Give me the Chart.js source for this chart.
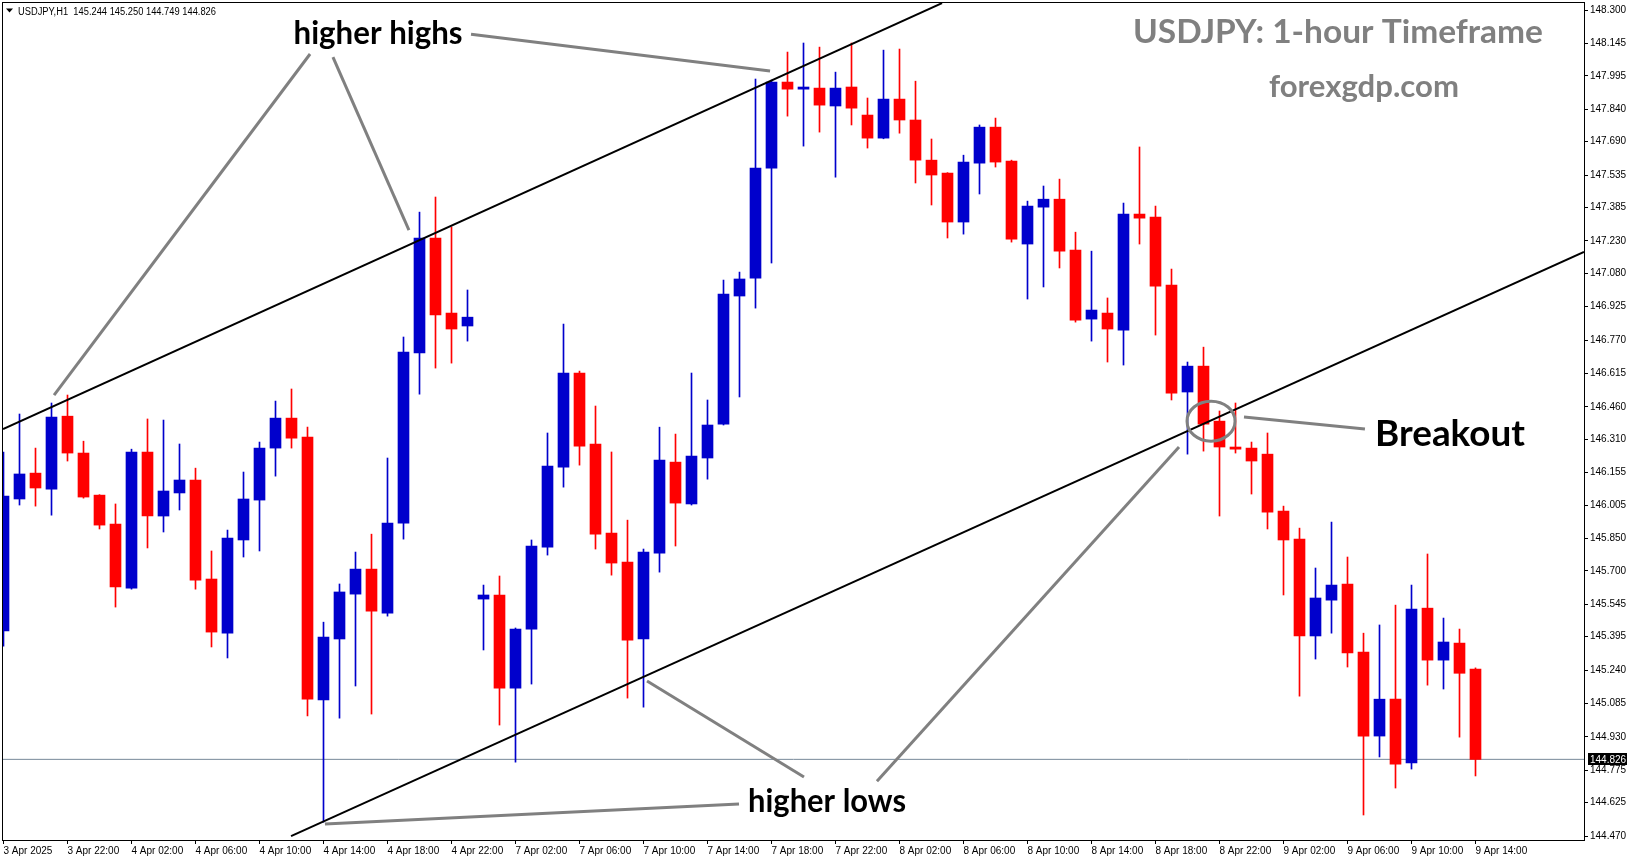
<!DOCTYPE html>
<html>
<head>
<meta charset="utf-8">
<script src="https://cdn.jsdelivr.net/npm/chart.js@4.4.1/dist/chart.umd.min.js"></script>
<style>
  html, body { margin: 0; padding: 0; background: #fff; }
  #wrap { width: 1631px; height: 861px; }
</style>
</head>
<body>
<div id="wrap"><canvas id="chart" width="1631" height="861"></canvas></div>
<script>
// USDJPY H1, 3 Apr 18:00 -> 9 Apr 14:00 (bar index 0..92)
const opens = [
  145.421, 146.033, 146.153, 146.079, 146.417, 146.246, 146.051, 145.917, 145.620, 146.251,
  145.954, 146.061, 146.121, 145.662, 145.411, 145.843, 146.028, 146.269, 146.408, 146.320,
  145.101, 145.384, 145.592, 145.708, 145.504, 145.921, 146.710, 147.243, 146.895, 146.835,
  145.569, 145.588, 145.156, 145.430, 145.810, 146.181, 146.617, 146.288, 145.875, 145.741,
  145.384, 145.782, 146.204, 146.010, 146.223, 146.380, 146.974, 147.057, 147.567, 147.966,
  147.933, 147.938, 147.855, 147.943, 147.813, 147.706, 147.887, 147.790, 147.604, 147.544,
  147.317, 147.590, 147.757, 147.600, 147.215, 147.386, 147.423, 147.187, 146.867, 146.895,
  146.816, 147.354, 147.340, 147.025, 146.529, 146.649, 146.394, 146.274, 146.269, 146.241,
  145.977, 145.847, 145.398, 145.564, 145.639, 145.323, 144.934, 145.105, 144.809, 145.527,
  145.286, 145.365, 145.244
];
const highs = [
  146.251, 146.427, 146.269, 146.478, 146.515, 146.301, 146.053, 146.010, 146.264, 146.404,
  146.399, 146.288, 146.176, 145.792, 145.889, 146.158, 146.297, 146.487, 146.543, 146.366,
  145.462, 145.639, 145.787, 145.870, 146.223, 146.784, 147.363, 147.433, 147.294, 147.002,
  145.634, 145.676, 145.435, 145.843, 146.339, 146.844, 146.626, 146.464, 146.251, 145.935,
  145.801, 146.366, 146.334, 146.617, 146.492, 147.048, 147.085, 147.980, 147.975, 148.105,
  148.147, 148.128, 148.012, 148.147, 147.892, 148.114, 148.119, 147.970, 147.702, 147.546,
  147.627, 147.767, 147.799, 147.604, 147.414, 147.484, 147.516, 147.270, 147.182, 146.965,
  147.405, 147.665, 147.391, 147.099, 146.668, 146.737, 146.441, 146.478, 146.297, 146.339,
  146.000, 145.898, 145.713, 145.926, 145.764, 145.411, 145.449, 145.541, 145.634, 145.778,
  145.481, 145.430, 145.250
];
const lows = [
  145.351, 146.005, 146.000, 145.958, 146.209, 146.037, 145.894, 145.532, 145.615, 145.806,
  145.880, 145.982, 145.615, 145.347, 145.296, 145.764, 145.792, 146.139, 146.269, 145.027,
  144.535, 145.017, 145.166, 145.036, 145.490, 145.847, 146.519, 146.640, 146.663, 146.765,
  145.333, 144.985, 144.813, 145.175, 145.773, 146.088, 146.190, 145.801, 145.680, 145.110,
  145.068, 145.694, 145.815, 146.005, 146.125, 146.376, 146.506, 146.918, 147.127, 147.808,
  147.669, 147.734, 147.525, 147.767, 147.660, 147.703, 147.729, 147.498, 147.396, 147.243,
  147.261, 147.447, 147.572, 147.224, 146.960, 147.016, 147.104, 146.853, 146.765, 146.668,
  146.654, 147.215, 146.793, 146.492, 146.241, 146.255, 145.954, 146.246, 146.056, 145.894,
  145.588, 145.119, 145.291, 145.411, 145.254, 144.568, 144.837, 144.693, 144.781, 145.170,
  145.152, 144.929, 144.749
];
const closes = [
  146.047, 146.149, 146.084, 146.413, 146.246, 146.042, 145.912, 145.625, 146.251, 145.954,
  146.070, 146.121, 145.657, 145.416, 145.852, 146.033, 146.269, 146.408, 146.315, 145.105,
  145.393, 145.602, 145.708, 145.513, 145.921, 146.714, 147.243, 146.886, 146.821, 146.876,
  145.588, 145.156, 145.430, 145.815, 146.186, 146.617, 146.278, 145.870, 145.736, 145.379,
  145.787, 146.213, 146.014, 146.232, 146.376, 146.983, 147.053, 147.567, 147.966, 147.933,
  147.943, 147.859, 147.938, 147.845, 147.706, 147.887, 147.790, 147.604, 147.535, 147.317,
  147.595, 147.757, 147.595, 147.238, 147.391, 147.423, 147.182, 146.862, 146.909, 146.821,
  147.354, 147.335, 147.020, 146.524, 146.649, 146.380, 146.274, 146.264, 146.209, 145.972,
  145.843, 145.398, 145.574, 145.634, 145.319, 144.934, 145.105, 144.804, 145.523, 145.286,
  145.370, 145.225, 144.826
];

const tickIdx = [0, 4, 8, 12, 16, 20, 24, 28, 32, 36, 40, 44, 48, 52, 56, 60, 64, 68, 72, 76, 80, 84, 88, 92];
const tickText = ['3 Apr 2025', '3 Apr 22:00', '4 Apr 02:00', '4 Apr 06:00', '4 Apr 10:00', '4 Apr 14:00',
  '4 Apr 18:00', '4 Apr 22:00', '7 Apr 02:00', '7 Apr 06:00', '7 Apr 10:00', '7 Apr 14:00', '7 Apr 18:00',
  '7 Apr 22:00', '8 Apr 02:00', '8 Apr 06:00', '8 Apr 10:00', '8 Apr 14:00', '8 Apr 18:00', '8 Apr 22:00',
  '9 Apr 02:00', '9 Apr 06:00', '9 Apr 10:00', '9 Apr 14:00'];
const yTicks = [148.300, 148.145, 147.995, 147.840, 147.690, 147.535, 147.385, 147.230, 147.080, 146.925,
  146.770, 146.615, 146.460, 146.310, 146.155, 146.005, 145.850, 145.700, 145.545, 145.395,
  145.240, 145.085, 144.930, 144.775, 144.625, 144.470];

// trend channel (bar index, price)
const upperLine = [[-0.03, 146.357], [58.66, 148.332]];
const lowerLine = [[17.97, 144.470], [98.78, 147.178]];
// grey pointer lines
const pointers = [
  [[19.16, 148.096], [3.16, 146.515]],
  [[20.59, 148.082], [25.34, 147.280]],
  [[29.22, 148.188], [47.91, 148.017]],
  [[20.09, 144.526], [45.97, 144.619]],
  [[40.22, 145.189], [50.03, 144.744]],
  [[54.59, 144.725], [73.47, 146.274]],
  [[77.53, 146.413], [85.09, 146.357]]
];
const breakoutAt = [75.47, 146.394];

const BLUE = '#0000CC', RED = '#FF0000', GREY = '#808080';
const idx = opens.map((_, i) => i);
const colorOf = i => closes[i] >= opens[i] ? BLUE : RED;
const last = closes[closes.length - 1];
const X_MIN = -0.03125, X_MAX = 98.78125;

Chart.defaults.font.family = '"Liberation Sans", Arial, sans-serif';
Chart.defaults.font.size = 10;
Chart.defaults.color = '#000';

const toXY = pts => pts.map(p => ({x: p[0], y: p[1]}));
const lineSet = (pts, color, w) => ({
  type: 'line', data: toXY(pts), borderColor: color, borderWidth: w,
  pointRadius: 0, fill: false, tension: 0, order: 0
});

function fitText(ctx, text, cx, base, font, width, color) {
  ctx.save();
  ctx.font = font;
  const w = ctx.measureText(text).width;
  ctx.translate(cx, base);
  ctx.scale(width / w, 1);
  ctx.fillStyle = color;
  ctx.textAlign = 'center';
  ctx.textBaseline = 'alphabetic';
  ctx.fillText(text, 0, 0);
  ctx.restore();
}

const overlay = {
  id: 'overlay',
  afterDraw(chart) {
    const {ctx, chartArea: ca, scales: {x, y}} = chart;
    // frame
    ctx.save();
    ctx.strokeStyle = '#000';
    ctx.lineWidth = 1;
    ctx.strokeRect(ca.left - 0.5, ca.top - 0.5, ca.right - ca.left + 1, ca.bottom - ca.top + 1);

    // breakout circle
    ctx.strokeStyle = GREY;
    ctx.lineWidth = 3;
    ctx.beginPath();
    ctx.ellipse(x.getPixelForValue(breakoutAt[0]), y.getPixelForValue(breakoutAt[1]), 24, 20, 0, 0, Math.PI * 2);
    ctx.stroke();

    // header
    ctx.fillStyle = '#000';
    ctx.beginPath();
    ctx.moveTo(6, 8.5); ctx.lineTo(13, 8.5); ctx.lineTo(9.5, 12.5); ctx.closePath();
    ctx.fill();
    ctx.font = '10px "Liberation Sans"';
    ctx.textBaseline = 'alphabetic';
    ctx.textAlign = 'left';
    const head = 'USDJPY,H1  ' + [opens[92], highs[92], lows[92], closes[92]].map(v => v.toFixed(3)).join(' ');
    const hw = ctx.measureText(head).width;
    ctx.save(); ctx.translate(18, 14.5); ctx.scale(198 / hw, 1); ctx.fillText(head, 0, 0); ctx.restore();

    // last price tag
    const py = y.getPixelForValue(last);
    ctx.fillStyle = '#000';
    ctx.fillRect(ca.right + 4, Math.round(py) - 6, 39, 12);
    ctx.fillStyle = '#fff';
    ctx.textBaseline = 'middle';
    ctx.fillText(last.toFixed(3), ca.right + 6, py + 0.5);
    ctx.restore();

    // labels
    fitText(ctx, 'higher highs', x.getPixelForValue(23.41), y.getPixelForValue(148.142), 'bold 32px Lato', 169, '#000');
    fitText(ctx, 'higher lows', x.getPixelForValue(51.47), y.getPixelForValue(144.582), 'bold 32px Lato', 158, '#000');
    fitText(ctx, 'Breakout', x.getPixelForValue(90.41), y.getPixelForValue(146.278), 'bold 37px Lato', 150, '#000');
    fitText(ctx, 'USDJPY: 1-hour Timeframe', 1338, 43, 'bold 33px Lato', 410, GREY);
    fitText(ctx, 'forexgdp.com', 1364, 97, 'bold 30px Lato', 190, GREY);
  }
};

new Chart(document.getElementById('chart'), {
  type: 'bar',
  data: {
    datasets: [
      lineSet(upperLine, '#000', 2),
      lineSet(lowerLine, '#000', 2),
      ...pointers.map(p => lineSet(p, GREY, 3)),
      {
        type: 'line', data: [{x: X_MIN, y: last}, {x: X_MAX, y: last}],
        borderColor: '#778899', borderWidth: 1, pointRadius: 0, order: 5
      },
      {
        type: 'bar', data: idx.map(i => ({x: i, y: [lows[i], highs[i]]})),
        backgroundColor: c => colorOf(c.dataIndex), barThickness: 1, grouped: false, order: 3
      },
      {
        type: 'bar', data: idx.map(i => ({x: i, y: [Math.min(opens[i], closes[i]), Math.max(opens[i], closes[i])]})),
        backgroundColor: c => colorOf(c.dataIndex), barThickness: 11, grouped: false, minBarLength: 1, order: 2
      }
    ]
  },
  options: {
    responsive: false,
    animation: false,
    layout: {padding: {left: 3, top: 3, right: 0, bottom: 0}, autoPadding: false},
    plugins: {legend: {display: false}, tooltip: {enabled: false}},
    scales: {
      x: {
        type: 'linear', min: X_MIN, max: X_MAX, bounds: 'data', offset: false,
        afterBuildTicks: s => { s.ticks = tickIdx.map(v => ({value: v})); },
        afterFit: s => { s.height = 21; s.paddingLeft = 0; s.paddingRight = 0; },
        ticks: {autoSkip: false, maxRotation: 0, minRotation: 0, align: 'start', padding: 1,
                callback: (v, i) => tickText[i]},
        grid: {offset: false, drawOnChartArea: false, drawTicks: true, tickLength: 4, color: '#000'},
        border: {display: false}
      },
      y: {
        type: 'linear', position: 'right', min: 144.4521, max: 148.3325, bounds: 'data',
        afterBuildTicks: s => { s.ticks = yTicks.map(v => ({value: v})); },
        afterFit: s => { s.width = 47; s.paddingTop = 0; s.paddingBottom = 0; },
        ticks: {autoSkip: false, padding: 2, callback: v => v.toFixed(3)},
        grid: {drawOnChartArea: false, drawTicks: true, tickLength: 4, color: '#000'},
        border: {display: false}
      }
    }
  },
  plugins: [overlay]
});
</script>
</body>
</html>
